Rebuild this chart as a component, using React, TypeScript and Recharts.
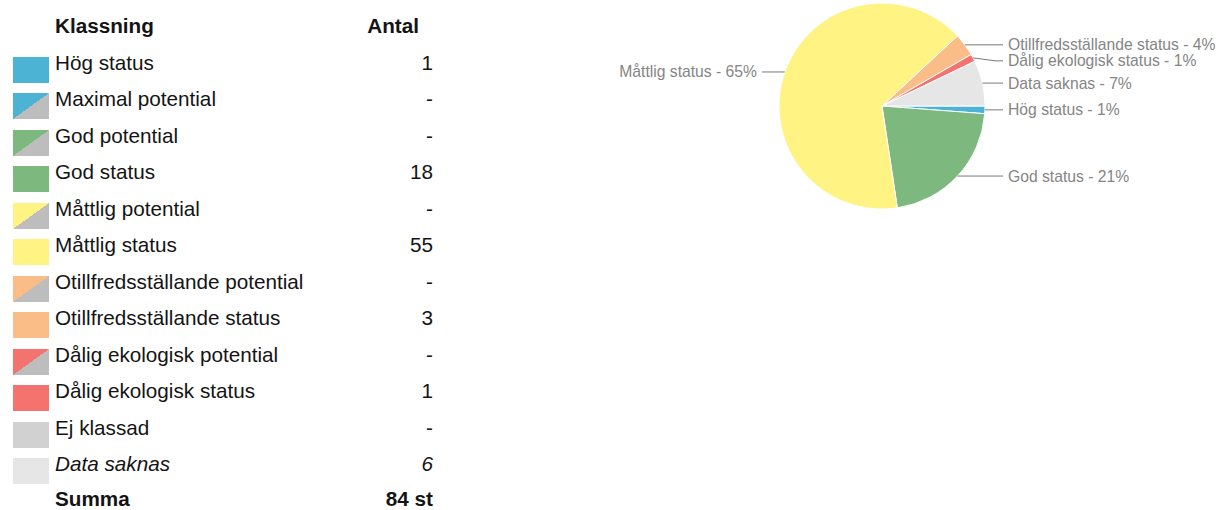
import { PieChart, Pie, Cell } from 'recharts'

const klassning = [
  'Hög status',
  'Maximal potential',
  'God potential',
  'God status',
  'Måttlig potential',
  'Måttlig status',
  'Otillfredsställande potential',
  'Otillfredsställande status',
  'Dålig ekologisk potential',
  'Dålig ekologisk status',
  'Ej klassad',
  'Data saknas',
]
const antal: (number | null)[] = [1, null, null, 18, null, 55, null, 3, null, 1, null, 6]
const farger = [
  '#4db3d4', '#4db3d4', '#7db87e', '#7db87e', '#fff384', '#fff384',
  '#fbbd88', '#fbbd88', '#f4736f', '#f4736f', '#d1d1d1', '#e6e6e6',
]
const potential = [false, true, true, false, true, false, true, false, true, false, false, false]
const summaText = '84 st'

const POT_GREY = '#bdbdbd'
const TEXT = '#141414'
const FONT = '"Liberation Sans", Arial, sans-serif'
const ROW = 36.5
const FIRST_TOP = 44.6
const FS = 20.7

const pieData = klassning
  .map((name, i) => ({ name, value: antal[i] ?? 0, color: farger[i] }))
  .filter(d => d.value > 0)

const total = pieData.reduce((s, d) => s + d.value, 0)
const START = 0
const RAD = Math.PI / 180
const GAP = 16

function labelLayout(cx: number, cy: number, r: number) {
  let a = START
  const items = pieData.map((d, i) => {
    const span = (d.value / total) * 360
    const mid = a - span / 2
    a -= span
    const x = cx + r * Math.cos(-mid * RAD)
    const y = cy + r * Math.sin(-mid * RAD)
    return { i, x, y, right: x >= cx, ly: y }
  })
  for (const side of [true, false]) {
    const list = items.filter(it => it.right === side).sort((p, q) => p.y - q.y)
    for (let k = 1; k < list.length; k++) {
      if (list[k].ly - list[k - 1].ly < GAP) list[k].ly = list[k - 1].ly + GAP
    }
  }
  return items
}

function renderLabel(props: any) {
  const { cx, cy, outerRadius, index, name, percent } = props
  const it = labelLayout(cx, cy, outerRadius)[index]
  const pct = Math.round(percent * 100)
  const right = it.right
  const tx = right ? cx + outerRadius + 23 : cx - outerRadius - 22
  const x1 = right ? cx + outerRadius + 10 : cx - outerRadius - 10
  const x2 = right ? cx + outerRadius + 18 : cx - outerRadius - 17
  return (
    <g key={`lbl-${index}`}>
      <polyline
        points={`${it.x},${it.y} ${x1},${it.ly} ${x2},${it.ly}`}
        fill="none"
        stroke="#7a7a7a"
        strokeWidth={1}
      />
      <text
        x={tx}
        y={it.ly}
        textAnchor={right ? 'start' : 'end'}
        dominantBaseline="central"
        fill="#858585"
        fontSize={15.7}
        fontFamily={FONT}
      >
        {`${name} - ${pct}%`}
      </text>
    </g>
  )
}

function Swatch({ color, pot }: { color: string; pot: boolean }) {
  return (
    <div
      style={{
        position: 'absolute',
        left: 13,
        top: 12.4,
        width: 36,
        height: 26,
        background: pot ? `linear-gradient(to bottom right, ${color} 50%, ${POT_GREY} 50%)` : color,
      }}
    />
  )
}

function Row({ top, label, value, color, pot, bold, italic, lh = ROW }: {
  top: number; label: string; value: string; color?: string; pot?: boolean; bold?: boolean; italic?: boolean; lh?: number
}) {
  const txt = {
    position: 'absolute' as const,
    top: 0,
    height: lh,
    lineHeight: `${lh}px`,
    fontSize: FS,
    fontWeight: bold ? 700 : 400,
    fontStyle: italic ? 'italic' : 'normal',
    color: TEXT,
    whiteSpace: 'nowrap' as const,
  }
  return (
    <div style={{ position: 'absolute', left: 0, top, width: 460, height: lh }}>
      {color && <Swatch color={color} pot={!!pot} />}
      <div style={{ ...txt, left: 55 }}>{label}</div>
      <div style={{ ...txt, left: 300, width: 133, textAlign: 'right' }}>{value}</div>
    </div>
  )
}

export default function App() {
  return (
    <div style={{ position: 'absolute', left: 0, top: 0, width: 1227, height: 510, background: '#fff', fontFamily: FONT, overflow: 'hidden' }}>
      <div style={{ position: 'absolute', left: 0, top: FIRST_TOP - ROW, width: 460, height: ROW }}>
        <div style={{ position: 'absolute', left: 55, top: 0, lineHeight: `${ROW}px`, fontSize: FS, fontWeight: 700, color: TEXT }}>Klassning</div>
        <div style={{ position: 'absolute', left: 300, width: 119, top: 0, lineHeight: `${ROW}px`, fontSize: FS, fontWeight: 700, color: TEXT, textAlign: 'right' }}>Antal</div>
      </div>
      {klassning.map((k, i) => (
        <Row
          key={k}
          top={FIRST_TOP + i * ROW}
          label={k}
          value={antal[i] == null ? '-' : String(antal[i])}
          color={farger[i]}
          pot={potential[i]}
          italic={k === 'Data saknas'}
        />
      ))}
      <Row top={489.3} lh={20} label="Summa" value={summaText} bold />

      <div style={{ position: 'absolute', left: 560, top: 0 }}>
        <PieChart width={667} height={215} style={{ overflow: 'visible' }}>
          <Pie
            data={pieData}
            dataKey="value"
            nameKey="name"
            cx={317}
            cy={101}
            outerRadius={103}
            startAngle={START}
            endAngle={START - 360}
            stroke="#ffffff"
            strokeWidth={1}
            label={renderLabel}
            labelLine={false}
            isAnimationActive={false}
          >
            {pieData.map(d => (
              <Cell key={d.name} fill={d.color} />
            ))}
          </Pie>
        </PieChart>
      </div>
    </div>
  )
}
